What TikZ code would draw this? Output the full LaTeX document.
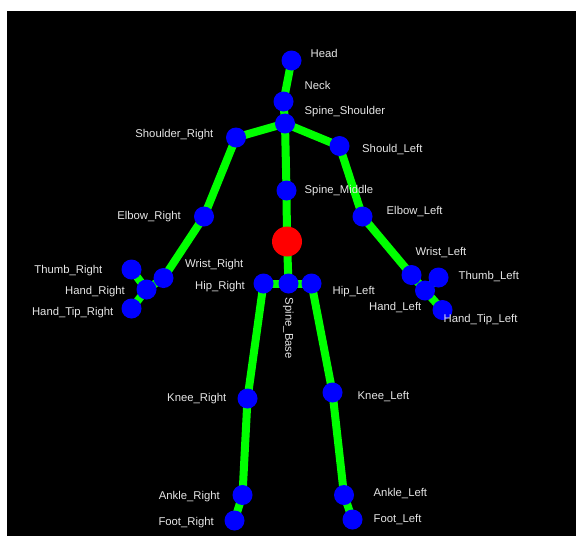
\documentclass[tikz,border=0pt]{standalone}
\usepackage{fontspec}
\setmainfont{Liberation Sans}
\usepackage{xcolor}
\usetikzlibrary{positioning}
\definecolor{boneGreen}{HTML}{00FF00}
\definecolor{jointBlue}{HTML}{0000FF}
\definecolor{rootRed}{HTML}{FF0000}
\definecolor{labelGray}{HTML}{E6E6E6}

\begin{document}
\begin{tikzpicture}[
  x=1pt, y=-1pt,
  joint/.style={circle, fill=jointBlue, inner sep=0pt, minimum size=20pt},
  root/.style={circle, fill=rootRed, inner sep=0pt, minimum size=30pt},
  bone/.style={draw=boneGreen, line width=8pt},
  tag/.style={text=labelGray, font=\fontsize{11.3}{13}\selectfont, inner sep=0pt, text height=8.1pt, text depth=0pt},
  tagL/.style={tag, anchor=east},
  tagR/.style={tag, anchor=west}
]
% Canvas
\useasboundingbox (0,0) rectangle (580,536);
\fill[white] (0,0) rectangle (580,536);
\fill[black] (7,11) rectangle (576,536);

% Joints (pixel positions)
\coordinate (head) at (291.5,60.5);
\coordinate (neck) at (283.5,101.5);
\coordinate (spsh) at (285,123.5);
\coordinate (shR) at (236,137.5);
\coordinate (shL) at (339.5,146);
\coordinate (spmid) at (286.5,190.5);
\coordinate (center) at (287,241.5);
\coordinate (spbase) at (288.5,283.5);
\coordinate (elR) at (204,216.5);
\coordinate (wrR) at (163.5,278);
\coordinate (thR) at (131.5,269.5);
\coordinate (haR) at (146.5,289.5);
\coordinate (tipR) at (131.5,308.5);
\coordinate (elL) at (362.5,216.5);
\coordinate (wrL) at (411.5,275);
\coordinate (thL) at (438.5,277.5);
\coordinate (haL) at (425,290.5);
\coordinate (tipL) at (442.5,310);
\coordinate (hipR) at (263.5,283.5);
\coordinate (hipL) at (311.5,283.5);
\coordinate (kneeR) at (247.5,398.5);
\coordinate (ankR) at (242.5,495);
\coordinate (footR) at (234.5,520.5);
\coordinate (kneeL) at (332.5,392.5);
\coordinate (ankL) at (344,495);
\coordinate (footL) at (352.5,519.5);

% Bones
\foreach \a/\b in {head/neck, neck/spsh, spsh/shR, spsh/shL, spsh/spmid, spmid/center, center/spbase,
  shR/elR, elR/wrR, wrR/haR, haR/thR, haR/tipR,
  shL/elL, elL/wrL, wrL/haL, haL/thL, haL/tipL,
  spbase/hipR, spbase/hipL, hipR/kneeR, kneeR/ankR, ankR/footR,
  hipL/kneeL, kneeL/ankL, ankL/footL} {
  \draw[bone] (\a) -- (\b);
}

% Joint markers
\foreach \j in {head, neck, spsh, shR, shL, spmid, spbase, elR, wrR, thR, haR, tipR,
  elL, wrL, thL, haL, tipL, hipR, hipL, kneeR, ankR, footR, kneeL, ankL, footL} {
  \node[joint] (n-\j) at (\j) {};
}
\node[root] (n-center) at (center) {};

% Labels
\node[tagR] (l-head) at (310.5,53.3) {Head};
\node[tagR] (l-neck) at (304.5,85.7) {Neck};
\node[tagR] (l-spsh) at (304.5,110.7) {Spine\_Shoulder};
\node[tagL] (l-shR) at (213.5,133.3) {Shoulder\_Right};
\node[tagR] (l-shL) at (362,148.3) {Should\_Left};
\node[tagR] (l-spmid) at (304.5,189.3) {Spine\_Middle};
\node[tagL] (l-elR) at (181,215.7) {Elbow\_Right};
\node[tagR] (l-elL) at (386.5,210.7) {Elbow\_Left};
\node[tagR] (l-wrR) at (185,263.3) {Wrist\_Right};
\node[tagL] (l-thR) at (102.5,269) {Thumb\_Right};
\node[tagL] (l-haR) at (125,290) {Hand\_Right};
\node[tagL] (l-tipR) at (113.5,311.7) {Hand\_Tip\_Right};
\node[tagL] (l-hipR) at (245,285) {Hip\_Right};
\node[tagR] (l-wrL) at (415.5,251.7) {Wrist\_Left};
\node[tagR] (l-thL) at (458.5,275) {Thumb\_Left};
\node[tagL] (l-haL) at (421.5,306) {Hand\_Left};
\node[tagR] (l-tipL) at (443.5,318.3) {Hand\_Tip\_Left};
\node[tagR] (l-hipL) at (332.5,290.7) {Hip\_Left};
\node[tag, rotate=-90] (l-spbase) at (289.3,328.3) {Spine\_Base};
\node[tagL] (l-kneeR) at (226.5,397.3) {Knee\_Right};
\node[tagR] (l-kneeL) at (357.5,395.7) {Knee\_Left};
\node[tagL] (l-ankR) at (220,495) {Ankle\_Right};
\node[tagR] (l-ankL) at (373.5,492.3) {Ankle\_Left};
\node[tagL] (l-footR) at (214,521.7) {Foot\_Right};
\node[tagR] (l-footL) at (373.5,518.3) {Foot\_Left};
\end{tikzpicture}
\end{document}
